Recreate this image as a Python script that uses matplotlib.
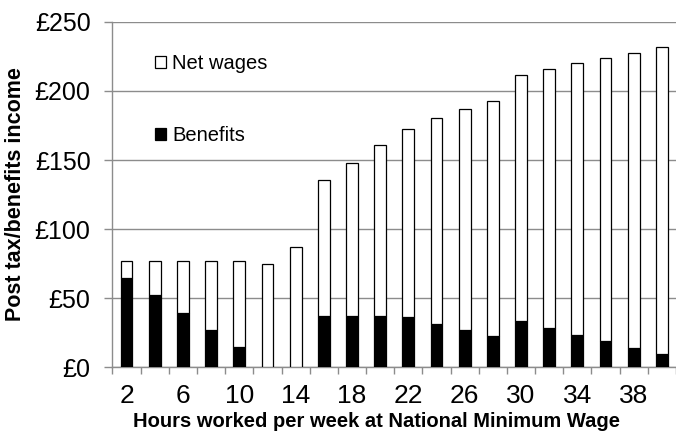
import matplotlib.pyplot as plt
import numpy as np

# hours worked per week at NMW
hours = [2, 4, 6, 8, 10, 12, 14, 16, 18, 20, 22, 24, 26, 28, 30, 32, 34, 36, 38, 40]
# weekly amounts in pounds
benefits = [64.5, 52, 39, 26.5, 14.5, 0, 0, 37, 37, 37, 36.3, 31.5, 26.6, 22.5, 33, 28, 23.2, 19, 14, 9.2]
total_income = [77, 77, 77, 77, 77, 75, 87, 135.5, 148, 161, 172.6, 180.3, 187, 193, 211.5, 215.6, 220, 224, 227.7, 231.6]
net_wages = [t - b for t, b in zip(total_income, benefits)]

y_ticks = [0, 50, 100, 150, 200, 250]
y_ticklabels = ["£0", "£50", "£100", "£150", "£200", "£250"]

plt.rcParams['font.family'] = ['Liberation Sans', 'DejaVu Sans']

fig = plt.figure(figsize=(6.76, 4.33), dpi=100)
ax = fig.add_axes([0.1664, 0.1524, 0.8336, 0.7968])

x = np.arange(len(hours))
grey = "#8c8c8c"

ax.bar(x, benefits, width=0.42, color="black", edgecolor="black", linewidth=0.9, label="Benefits", zorder=3)
ax.bar(x, net_wages, width=0.42, bottom=benefits, color="white", edgecolor="black", linewidth=0.9, label="Net wages", zorder=3)

ax.set_ylim(0, 250)
ax.set_xlim(-0.5, 19.34)
ax.set_yticks(y_ticks)
ax.set_yticklabels(y_ticklabels)
ax.yaxis.grid(True, color=grey, linewidth=1.0, zorder=0)
ax.set_axisbelow(True)

ax.set_xticks(x[::2])
ax.set_xticklabels([str(h) for h in hours[::2]])
ax.set_xticks(np.arange(-0.5, 20, 1), minor=True)
ax.tick_params(axis='x', which='major', length=0, labelsize=19, pad=12)
ax.tick_params(axis='x', which='minor', length=5, color=grey, width=1)
ax.tick_params(axis='y', length=5.8, color=grey, width=1, labelsize=18, pad=10)

for s in ['top', 'right']:
    ax.spines[s].set_visible(False)
for s in ['left', 'bottom']:
    ax.spines[s].set_color(grey)
    ax.spines[s].set_linewidth(1.0)

ax.set_ylabel("Post tax/benefits income", fontsize=15.5, fontweight='bold')
ax.yaxis.set_label_coords(-0.153, 0.5)
ax.set_xlabel("Hours worked per week at National Minimum Wage", fontsize=14.5, fontweight='bold')
ax.xaxis.set_label_coords(0.469, -0.13)

handles, labels = ax.get_legend_handles_labels()
leg = ax.legend(handles[::-1], labels[::-1], loc='upper left', bbox_to_anchor=(0.0754, 0.908),
                frameon=False, fontsize=14.5, handlelength=0.55, handleheight=0.55,
                handletextpad=0.3, labelspacing=2.65, borderpad=0, borderaxespad=0)

fig.savefig("out.png", dpi=100)
